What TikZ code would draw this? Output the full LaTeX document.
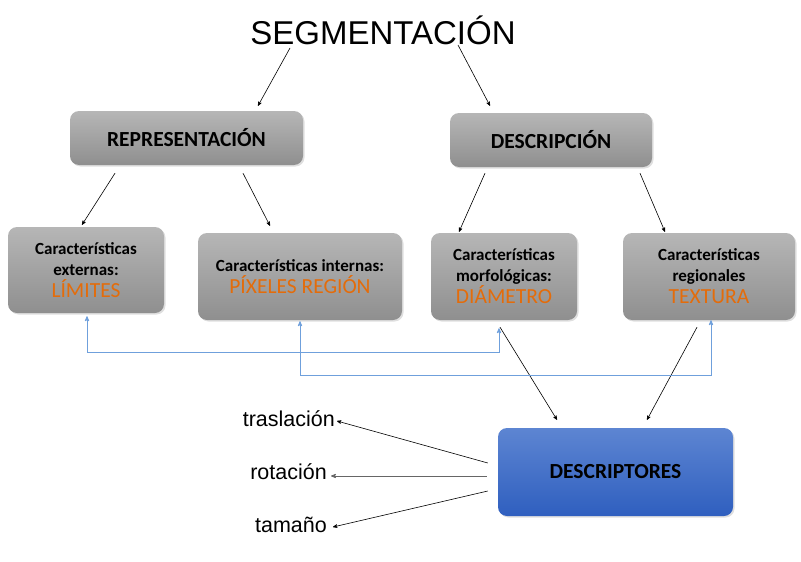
\documentclass[tikz,border=0pt]{standalone}
\usepackage{fontspec}
\setmainfont{Liberation Sans}
\newfontfamily\boxfont{Carlito}
\usepackage{xcolor}
\usetikzlibrary{arrows, calc, positioning, shadows}
\definecolor{boxtop}{HTML}{B6B6B6}
\definecolor{boxbot}{HTML}{8F8F8F}
\definecolor{bluetop}{HTML}{5D85D2}
\definecolor{bluebot}{HTML}{2F5FBF}
\definecolor{orangetxt}{HTML}{E46C0A}
\definecolor{linkblue}{HTML}{6FA0DC}
\newcommand{\hl}[1]{{\mdseries\fontsize{21.5}{24}\selectfont\color{orangetxt}#1}}

\begin{document}
\begin{tikzpicture}[x=1pt, y=-1pt,
 module/.style={rounded corners=9pt, align=center, inner sep=2pt,
   top color=boxtop, bottom color=boxbot, drop shadow={opacity=0.25, shadow xshift=1.5pt, shadow yshift=-1.5pt},
   font=\boxfont\bfseries\fontsize{17}{21}\selectfont},
 headmodule/.style={module, font=\boxfont\bfseries\fontsize{21.5}{24}\selectfont},
 descmodule/.style={module, top color=bluetop, bottom color=bluebot,
   font=\boxfont\bfseries\fontsize{21.5}{24}\selectfont},
 prop/.style={anchor=east, inner sep=1pt, font=\fontsize{21.5}{24}\selectfont},
 arrow/.style={-stealth', semithick},
 link/.style={stealth'-stealth', linkblue, thick},
 ]
 \useasboundingbox (0,0) rectangle (801,562);

 \node[font=\fontsize{33}{36}\selectfont] (title) at (383,30) {SEGMENTACIÓN};

 \node[headmodule, minimum width=233pt, minimum height=54pt] (rep) at (186.5,138)
 {REPRESENTACIÓN};
 \node[headmodule, minimum width=202pt, minimum height=54pt] (des) at (551,140)
 {DESCRIPCIÓN};

 \node[module, minimum width=156pt, minimum height=86pt] (ext) at (86,270)
 {Características\\externas:\\[1pt]\hl{LÍMITES}};
 \node[module, minimum width=204pt, minimum height=87pt] (int) at (300,276.5)
 {Características internas:\\[1pt]\hl{PÍXELES REGIÓN}};
 \node[module, minimum width=146pt, minimum height=87pt] (mor) at (504,276.5)
 {Características\\morfológicas:\\[1pt]\hl{DIÁMETRO}};
 \node[module, minimum width=172pt, minimum height=87pt] (reg) at (709,276.5)
 {Características\\regionales\\[1pt]\hl{TEXTURA}};

 \node[descmodule, minimum width=235pt, minimum height=88pt] (dsc) at (615.5,472)
 {DESCRIPTORES};

 \node[prop] (tras) at (336,419) {traslación};
 \node[prop] (rot) at (328,472) {rotación};
 \node[prop] (tam) at (328,525) {tamaño};

 \draw[arrow] ($(title)+(-93,18)$) -- ($(rep.north)+(71.5,-5)$);
 \draw[arrow] ($(title)+(75,15)$) -- ($(des.north)+(-61,-7)$);

 \draw[arrow] ($(rep.south)+(-71.5,8)$) -- ($(ext.north)+(-4,-2)$);
 \draw[arrow] ($(rep.south)+(56.5,8)$) -- ($(int.north)+(-30,-7)$);
 \draw[arrow] ($(des.south)+(-66,6)$) -- ($(mor.north)+(-45,-1)$);
 \draw[arrow] ($(des.south)+(89,6)$) -- ($(reg.north)+(-44,-1)$);

 \draw[arrow] ($(mor.south)+(-4,7)$) -- ($(dsc.north)+(-58.5,-8)$);
 \draw[arrow] ($(reg.south)+(-12,7)$) -- ($(dsc.north)+(31.5,-8)$);

 \draw[link] ($(ext.south)+(1,3)$) |- ($(mor.south)+(-5,32)$)
 -- ($(mor.south)+(-5,8)$);
 \draw[link] ($(int.south)+(0,1)$) |- ($(reg.south)+(2,55)$)
 -- ($(reg.south)+(2,0)$);

 \draw[arrow] ($(dsc.west)+(-10,-9)$) -- ($(tras.east)+(1,2)$);
 \draw[arrow, gray!80!black, thick] ($(dsc.west)+(-11,4)$) -- ($(rot.east)+(3,4)$);
 \draw[arrow] ($(dsc.west)+(-10,19)$) -- ($(tam.east)+(5,2)$);
\end{tikzpicture}
\end{document}
